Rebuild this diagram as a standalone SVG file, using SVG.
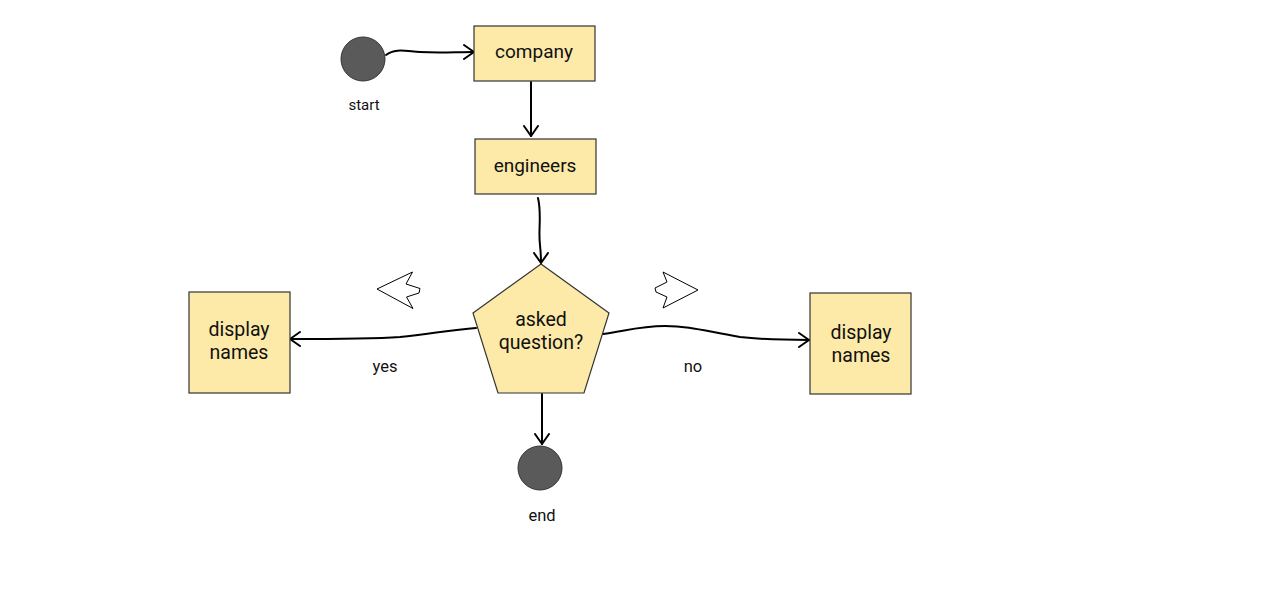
<svg xmlns="http://www.w3.org/2000/svg" width="1280" height="601" viewBox="0 0 1280 601">
<defs>
<style>
.box{fill:#fdeaa8;stroke:#333;stroke-width:1.2}
.term{fill:#5a5a5a;stroke:#333;stroke-width:1}
.lbl{font-family:Roboto,"Noto Sans",sans-serif;fill:#111;text-anchor:middle}
.big{font-size:19px}
.mid{font-size:19.5px}
.sm{font-size:15px}
.el{font-size:16.5px}
.edge{fill:none;stroke:#000;stroke-width:2;stroke-linecap:round}
.hollow{fill:#fff;stroke:#000;stroke-width:1}
</style>
<marker id="arr" viewBox="0 0 12 16" refX="11" refY="8" markerWidth="12" markerHeight="16" markerUnits="userSpaceOnUse" orient="auto">
<path d="M1,1 L11,8 L1,15" fill="none" stroke="#000" stroke-width="2" stroke-linecap="round" stroke-linejoin="round"/>
</marker>
</defs>
<rect width="1280" height="601" fill="#fff"/>
<g id="connectors">
<path class="edge" marker-end="url(#arr)" d="M386,55 C395,48 405,51 420,52 C440,53 455,52 474,52"/>
<path class="edge" marker-end="url(#arr)" d="M531,82 L531,136"/>
<path class="edge" marker-end="url(#arr)" d="M538,198 C542,215 538,230 540,245 C541,255 541,258 541,263"/>
<path class="edge" marker-end="url(#arr)" d="M476,328 C450,330 430,334 400,337 C370,339 340,339 290,339"/>
<path class="edge" marker-end="url(#arr)" d="M603,334 C625,331 640,326 665,326 C690,326 705,331 740,337 C765,340 785,340 809,340"/>
<path class="edge" marker-end="url(#arr)" d="M542,394 L542,444"/>
<text class="lbl el" x="385" y="372">yes</text>
<text class="lbl el" x="693" y="372">no</text>
</g>
<g id="hint-left">
<polygon class="hollow" points="377,289 412.5,272 406,284 420,288.5 419,293 406.5,297 413,308.5"/>
</g>
<g id="hint-right">
<polygon class="hollow" points="698,290 663,272 667,282 655,288 656,292 667,297 663,308"/>
</g>
<g id="start">
<circle class="term" cx="363" cy="59" r="22"/>
<text class="lbl sm" x="364" y="110">start</text>
</g>
<g id="company">
<rect class="box" x="474" y="26" width="121" height="55"/>
<text class="lbl big" x="534" y="58">company</text>
</g>
<g id="engineers">
<rect class="box" x="475" y="139" width="121" height="55"/>
<text class="lbl big" x="535" y="172">engineers</text>
</g>
<g id="decision">
<polygon class="box" points="541,264 609,313 584,393 498,393 473,313"/>
<text class="lbl mid" x="541" y="326"><tspan x="541">asked</tspan><tspan x="541" dy="23">question?</tspan></text>
</g>
<g id="display-left">
<rect class="box" x="189" y="292" width="101" height="101"/>
<text class="lbl mid" x="239" y="336"><tspan x="239">display</tspan><tspan x="239" dy="23">names</tspan></text>
</g>
<g id="display-right">
<rect class="box" x="810" y="293" width="101" height="101"/>
<text class="lbl mid" x="861" y="339"><tspan x="861">display</tspan><tspan x="861" dy="23">names</tspan></text>
</g>
<g id="end">
<circle class="term" cx="540" cy="468" r="22"/>
<text class="lbl el" x="542" y="521">end</text>
</g>
</svg>
